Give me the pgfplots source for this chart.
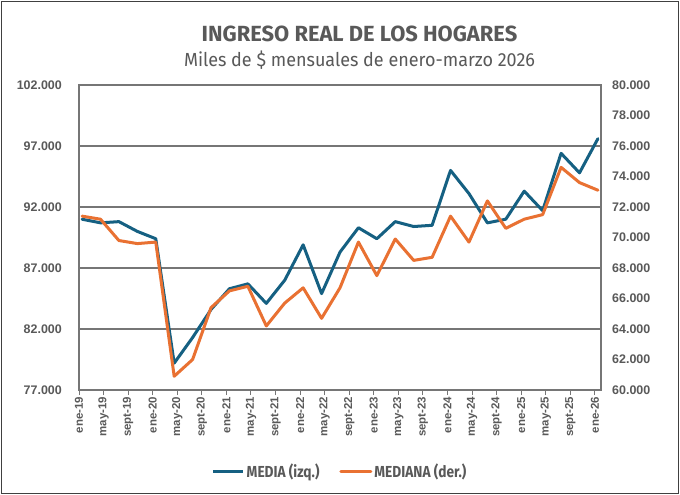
\documentclass[border=0pt]{standalone}
\usepackage{pgfplots}
\pgfplotsset{compat=1.18}
\usepackage{pgfplotstable}
\usepackage{fontspec}
\setmainfont{Liberation Sans}
\newfontfamily\titlefont{Fira Sans}
\newfontfamily\subfont[FakeStretch=0.95]{Fira Sans}
\newfontfamily\narrowfont[FakeStretch=0.86]{Fira Sans}
\definecolor{cblue}{HTML}{156082}
\definecolor{corange}{HTML}{E97132}
\definecolor{cgrid}{HTML}{767676}
\definecolor{ctext}{HTML}{595959}

\pgfplotstableread{
x     media  mediana
0.5   91.0   71.4
3.5   90.7   71.2
6.5   90.8   69.8
9.5   90.0   69.6
12.5  89.4   69.7
15.5  79.2   60.9
18.5  81.3   62.0
21.5  83.6   65.4
24.5  85.3   66.5
27.5  85.7   66.8
30.5  84.1   64.2
33.5  86.0   65.7
36.5  88.9   66.7
39.5  84.9   64.7
42.5  88.3   66.7
45.5  90.3   69.7
48.5  89.4   67.5
51.5  90.8   69.9
54.5  90.4   68.5
57.5  90.5   68.7
60.5  95.0   71.4
63.5  93.1   69.7
66.5  90.7   72.4
69.5  91.0   70.6
72.5  93.3   71.2
75.5  91.7   71.5
78.5  96.4   74.6
81.5  94.8   73.6
84.5  97.6   73.1
}\datatable

\begin{document}
\begin{tikzpicture}
\path[use as bounding box, fill=white] (0bp,0bp) rectangle (680bp,495bp);
\draw[color=black!75, line width=1bp] (1.5bp,1.5bp) rectangle (678.5bp,493.5bp);

\node[anchor=base, font=\titlefont\bfseries\fontsize{22}{26}\selectfont, text=ctext] at (359.5bp,453.3bp) {INGRESO REAL DE LOS HOGARES};
\node[anchor=base, font=\subfont\fontsize{19}{22}\selectfont, text=ctext] at (359.5bp,428.3bp) {Miles de \$ mensuales de enero-marzo 2026};

\pgfplotsset{
  common/.style={
    at={(79bp,105bp)}, anchor=south west,
    scale only axis, width=522bp, height=305bp,
    xmin=0, xmax=85,
    /pgf/number format/assume math mode=true,
    tick label style={font=\bfseries\fontsize{12.5}{14}\selectfont, text=ctext},
    ytick style={draw=none},
    yticklabel style={/pgf/number format/fixed, /pgf/number format/fixed zerofill, /pgf/number format/precision=3},
  }
}

\begin{axis}[common,
  ymin=77, ymax=102,
  ytick={77,82,87,92,97,102},
  ymajorgrids,
  grid style={cgrid, line width=1.3bp},
  axis line style={cgrid, line width=1.3bp},
  xtick={0,4,...,84},
  xticklabels={ene-19,may-19,sept-19,ene-20,may-20,sept-20,ene-21,may-21,sept-21,ene-22,may-22,sept-22,ene-23,may-23,sept-23,ene-24,may-24,sept-24,ene-25,may-25,sept-25,ene-26},
  xtick pos=bottom,
  tick align=outside,
  major tick length=5bp,
  xtick style={cgrid, line width=1bp},
  xticklabel style={rotate=90, anchor=east, font=\bfseries\fontsize{11.5}{13}\selectfont, inner sep=1.5bp},
  ytick pos=left,
  yticklabel style={anchor=east, inner sep=0pt, xshift=-12bp},
]
\addplot[cblue, line width=3bp, line join=round, line cap=round] table[x=x, y=media] {\datatable};
\end{axis}

\begin{axis}[common,
  ymin=60, ymax=80,
  ytick={60,62,...,80},
  axis x line=none,
  axis y line*=right,
  axis line style={cgrid, line width=1.3bp},
  yticklabel style={anchor=west, inner sep=0pt, xshift=11bp},
  legend style={at={(0.5,-0.266)}, anchor=center, draw=none, fill=none,
    legend columns=2, font=\narrowfont\bfseries\fontsize{16}{18}\selectfont, text=ctext,
    /tikz/every even column/.append style={column sep=18bp}},
  legend cell align=left,
  legend image code/.code={\draw[#1] (0bp,0bp) -- (30bp,0bp);},
]
\addlegendimage{cblue, line width=3bp}
\addlegendentry{MEDIA (izq.)}
\addplot[corange, line width=3bp, line join=round, line cap=round] table[x=x, y=mediana] {\datatable};
\addlegendentry{MEDIANA (der.)}
\end{axis}
\end{tikzpicture}
\end{document}
